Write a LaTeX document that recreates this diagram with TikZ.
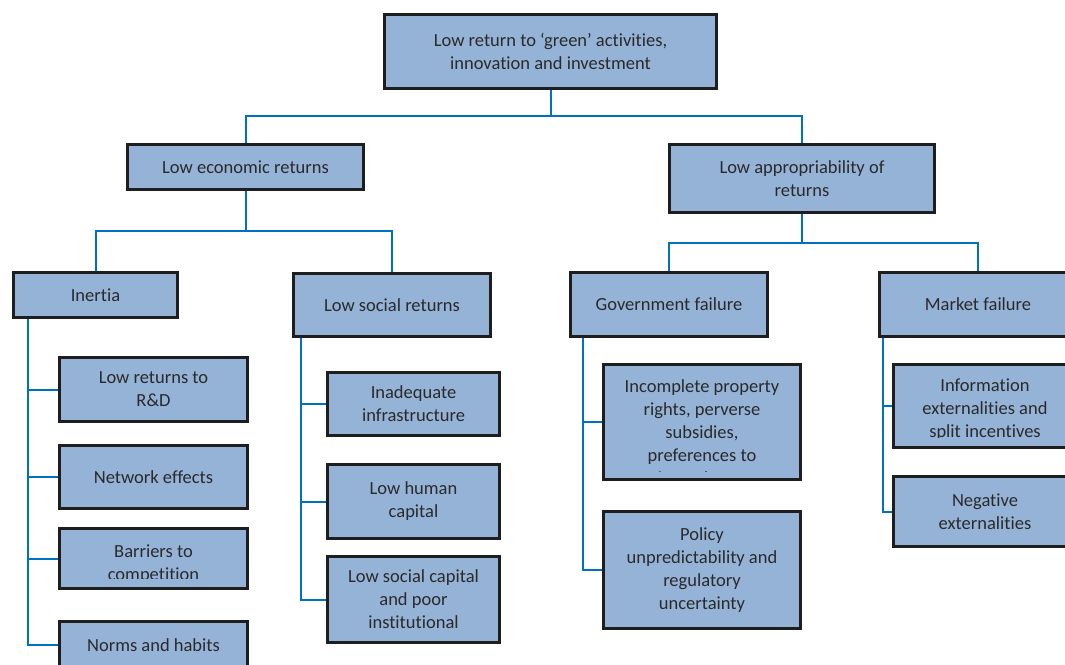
\documentclass[tikz,border=0pt]{standalone}
\usepackage{fontspec}
\setmainfont{Carlito}[Ligatures=NoCommon]
\usetikzlibrary{calc}
\definecolor{boxfill}{HTML}{95B3D7}
\definecolor{boxline}{HTML}{1E1E1E}
\definecolor{linkblue}{HTML}{0070C0}
\definecolor{txtcol}{HTML}{2A2A2A}
\tikzset{
  boxlabel/.style={text=txtcol, align=center, inner sep=0pt,
    font=\fontsize{18.5}{23}\selectfont},
  box/.style={boxlabel, draw=boxline, line width=3pt, fill=boxfill},
  frame/.style={draw=boxline, line width=3pt},
  conn/.style={draw=linkblue, line width=2pt},
}
% \tbox{name}{left}{top}{right}{bottom}{text}, edges in pixel units
\newcommand\tbox[6]{%
  \node[box, minimum width={#4-#2-3}, minimum height={#5-#3-3}]
    (#1) at ({(#2+#4)/2},{(#3+#5)/2}) {#6};}
% box whose text overflows and is cut off inside the frame
% \cbox{name}{left}{top}{right}{bottom}{clip bottom}{text centre y}{text}
\newcommand\cbox[8]{%
  \tbox{#1}{#2}{#3}{#4}{#5}{}
  \begin{scope}
    \clip ({#2+3},{#3+3}) rectangle ({#4-3},#6);
    \node[boxlabel] (#1-text) at ({(#2+#4)/2},#7) {#8};
  \end{scope}
  \draw[frame] ({#2+1.5},{#3+1.5}) rectangle ({#4-1.5},{#5-1.5});}
\begin{document}
\begin{tikzpicture}[x=1pt,y=-1pt]
  \useasboundingbox (0,0) rectangle (1065,664);
  \fill[white] (0,0) rectangle (1065,664);
  \clip (0,0) rectangle (1065,664);

  % level 0
  \tbox{root}{383}{13}{718}{90}{Low return to ‘green’ activities,\\innovation and investment}
  % level 1
  \tbox{econ}{126}{143}{365}{191}{Low economic returns}
  \tbox{appr}{668}{143}{936}{214}{Low appropriability of\\returns}
  % level 2
  \tbox{inert}{12}{271}{179}{319}{Inertia}
  \tbox{social}{292}{272}{492}{338}{Low social returns}
  \tbox{gov}{569}{271}{769}{338}{Government failure}
  \tbox{market}{878}{271}{1078}{338}{Market failure}
  % level 3 under Inertia
  \tbox{rd}{58}{356}{249}{423}{Low returns to\\R\&D}
  \tbox{network}{58}{444}{249}{510}{Network effects}
  \cbox{barriers}{58}{527}{249}{590}{578}{564}{Barriers to\\competition}
  \tbox{norms}{58}{620}{249}{670}{Norms and habits}
  % level 3 under Low social returns
  \tbox{infra}{326}{371}{501}{437}{Inadequate\\infrastructure}
  \tbox{human}{326}{463}{501}{540}{Low human\\capital}
  \tbox{soccap}{326}{555}{501}{644}{Low social capital\\and poor\\institutional}
  % level 3 under Government failure
  \cbox{property}{602}{363}{802}{481}{471}{432}{Incomplete property\\rights, perverse\\subsidies,\\preferences to\\incumbents}
  \tbox{policy}{602}{510}{802}{630}{Policy\\unpredictability and\\regulatory\\uncertainty}
  % level 3 under Market failure
  \cbox{info}{892}{363}{1078}{449}{437}{410}{Information\\externalities and\\split incentives}
  \tbox{negative}{892}{475}{1078}{548}{Negative\\externalities}

  % tree connectors
  \draw[conn] (root.south) -- (root.south |- 0,116) -| (econ.north);
  \draw[conn] (root.south |- 0,116) -| (appr.north);
  \draw[conn] (econ.south) -- (econ.south |- 0,231) -| (inert.north);
  \draw[conn] (econ.south |- 0,231) -| (social.north);
  \draw[conn] (appr.south) -- (appr.south |- 0,243) -| (gov.north);
  \draw[conn] (appr.south |- 0,243) -| (market.north);

  % side rails to the leaf boxes
  \coordinate (railI) at (28,0);
  \coordinate (railS) at (301,0);
  \coordinate (railG) at (583,0);
  \coordinate (railM) at (883,0);
  \foreach \leaf in {rd,network,barriers,norms}
    \draw[conn] (inert.south -| railI) |- (\leaf.west);
  \foreach \leaf in {infra,human,soccap}
    \draw[conn] (social.south -| railS) |- (\leaf.west);
  \foreach \leaf in {property,policy}
    \draw[conn] (gov.south -| railG) |- (\leaf.west);
  \foreach \leaf in {info,negative}
    \draw[conn] (market.south -| railM) |- (\leaf.west);
\end{tikzpicture}
\end{document}
